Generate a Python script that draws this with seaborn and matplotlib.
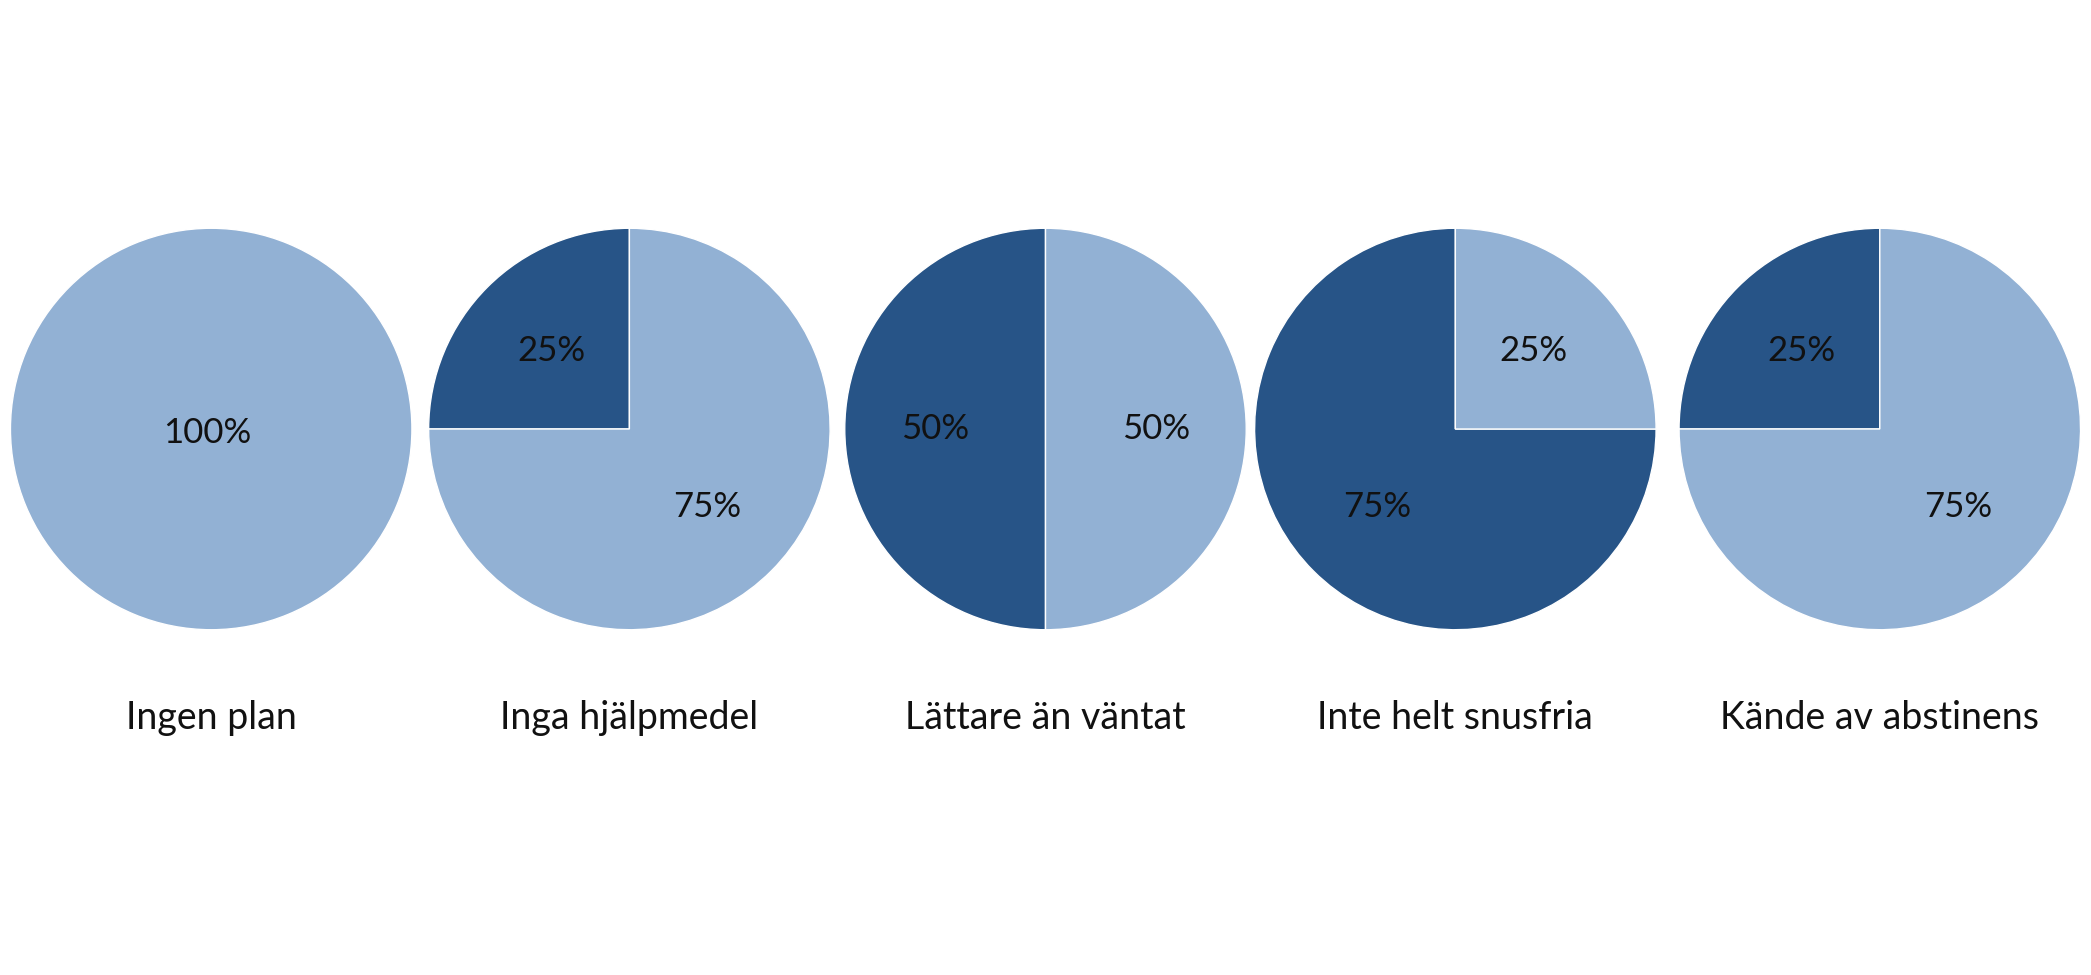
import matplotlib
matplotlib.use('Agg')
import matplotlib.pyplot as plt
import seaborn as sns

# data
categories = ['Ingen plan', 'Inga hjälpmedel', 'Lättare än väntat',
              'Inte helt snusfria', 'Kände av abstinens']
dark_share = [0, 25, 50, 75, 25]
light_share = [100, 75, 50, 25, 75]

DARK = '#275487'
LIGHT = '#92b1d4'

sns.set_theme(style='white')
plt.rcParams['font.family'] = ['Lato', 'DejaVu Sans']

fig = plt.figure(figsize=(20.91, 9.75), dpi=100)
centers = [0.101, 0.301, 0.5, 0.696, 0.899]
w = 0.196
h = 0.42
for cx, name, d, l in zip(centers, categories, dark_share, light_share):
    ax = fig.add_axes([cx - w / 2, 0.56 - h / 2, w, h])
    vals, cols = [], []
    if d:
        vals.append(d); cols.append(DARK)
    if l:
        vals.append(l); cols.append(LIGHT)
    wedges, texts, autotexts = ax.pie(
        vals, colors=cols, startangle=90, counterclock=True,
        autopct='%d%%', pctdistance=0.55,
        wedgeprops=dict(linewidth=1, edgecolor='white'),
        textprops=dict(fontsize=25, color='#111111'))
    if len(vals) == 1:
        autotexts[0].set_position((-0.02, -0.02))
    ax.set_aspect('equal')
    ax.set_xlim(-1.02, 1.02)
    ax.set_ylim(-1.02, 1.02)
    fig.text(cx, 0.264, name, ha='center', va='center', fontsize=27, color='#111111')

fig.savefig('out.png', dpi=100, facecolor='white')
